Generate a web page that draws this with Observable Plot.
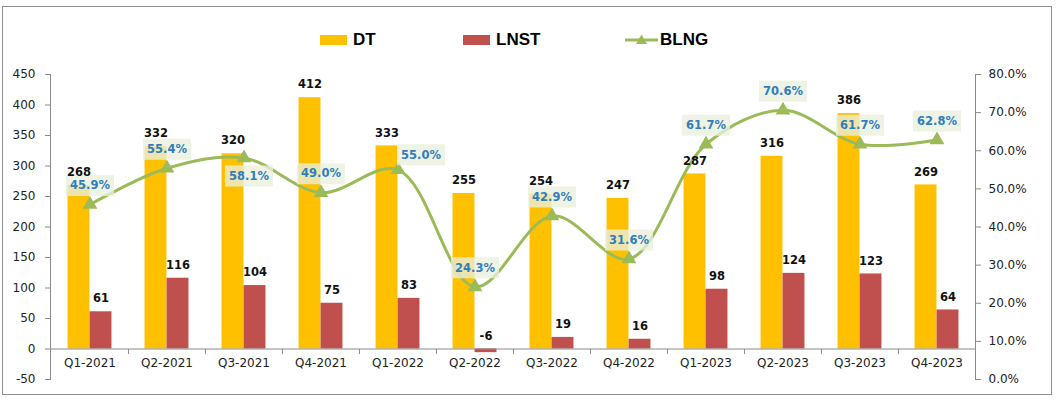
<!DOCTYPE html>
<html>
<head>
<meta charset="utf-8">
<script src="https://cdn.jsdelivr.net/npm/d3@7"></script>
<script src="https://cdn.jsdelivr.net/npm/@observablehq/plot@0.6"></script>
<style>
  html, body { margin: 0; padding: 0; background: #fff; }
  #wrap { position: relative; width: 1056px; height: 401px; overflow: hidden; }
  #frame { position: absolute; left: 2px; top: 6px; width: 1050px; height: 389px; box-sizing: border-box; border: 1px solid #8f8f8f; pointer-events: none; }
  #chart { position: absolute; left: 0; top: 0; }
  .legend { position: absolute; top: 0; left: 0; width: 1056px; height: 60px; font-family: "Liberation Sans", Arial, sans-serif; font-weight: bold; font-size: 17px; color: #000; }
  .legend .item { position: absolute; top: 29px; height: 22px; display: flex; align-items: center; }
  .legend .sw { display: inline-block; width: 27px; height: 10px; margin-right: 6px; }
  .legend svg { margin-right: 2px; }
</style>
</head>
<body>
<div id="wrap">
  <div id="chart"></div>
  <div class="legend" id="legend"></div>
  <div id="frame"></div>
</div>
<script>
// ---- data ----
const quarters = ["Q1-2021","Q2-2021","Q3-2021","Q4-2021","Q1-2022","Q2-2022","Q3-2022","Q4-2022","Q1-2023","Q2-2023","Q3-2023","Q4-2023"];
const dtValues   = [268, 332, 320, 412, 333, 255, 254, 247, 287, 316, 386, 269];
const lnstValues = [61, 116, 104, 75, 83, -6, 19, 16, 98, 124, 123, 64];
const blngValues = [45.9, 55.4, 58.1, 49.0, 55.0, 24.3, 42.9, 31.6, 61.7, 70.6, 61.7, 62.8];
const blngLabelPlacement = ["above","above","below","above","right","above","above","above","above","above","above","above"];
const leftTicks  = [-50, 0, 50, 100, 150, 200, 250, 300, 350, 400, 450];
const rightTicks = [0, 10, 20, 30, 40, 50, 60, 70, 80];
const seriesNames = ["DT", "LNST", "BLNG"];

// ---- styling / layout ----
const colors = {DT: "#FFC000", LNST: "#C0504D", BLNG: "#9BBB59"};
const W = 1056, H = 401, mL = 50, mR = 81, mT = 74, mB = 22;
const bandW = (W - mL - mR) / quarters.length;
const barW = 22;
const leftDomain = [leftTicks[0], leftTicks[leftTicks.length - 1]];
const rightDomain = [rightTicks[0], rightTicks[rightTicks.length - 1]];
const toLeft = p => leftDomain[0] + (p - rightDomain[0]) * (leftDomain[1] - leftDomain[0]) / (rightDomain[1] - rightDomain[0]);
const fromLeft = v => rightDomain[0] + (v - leftDomain[0]) * (rightDomain[1] - rightDomain[0]) / (leftDomain[1] - leftDomain[0]);
const placeOffsets = {above: [0, -19], below: [5, 18], right: [23, -15]};

const rows = quarters.map((q, i) => ({q, dt: dtValues[i], lnst: lnstValues[i], blng: blngValues[i], place: blngLabelPlacement[i]}));

const boxSymbol = {draw(ctx) { ctx.rect(-24, -10.5, 48, 21); }};
const tickSymbol = {draw(ctx) { ctx.moveTo(0, 0); ctx.lineTo(0, 5); }};

const pctMarks = Object.entries(placeOffsets).flatMap(([p, [dx, dy]]) => {
  const sub = rows.filter(d => d.place === p);
  return [
    Plot.dot(sub, {x: "q", y: d => toLeft(d.blng), symbol: boxSymbol, fill: "#E9EFDC", fillOpacity: 0.78, stroke: "none", dx, dy}),
    Plot.text(sub, {x: "q", y: d => toLeft(d.blng), text: d => d.blng.toFixed(1) + "%", dx, dy, fill: "#2F7DBF", fontWeight: "bold", fontSize: 11.5, textAnchor: "middle", lineAnchor: "middle"})
  ];
});

const chart = Plot.plot({
  width: W, height: H,
  marginLeft: mL, marginRight: mR, marginTop: mT, marginBottom: mB,
  style: {fontFamily: "'DejaVu Sans', Verdana, sans-serif", fontSize: "12px", color: "#222", background: "transparent", overflow: "visible"},
  x: {type: "band", domain: quarters, padding: 0, axis: null},
  y: {domain: leftDomain, axis: null},
  marks: [
    Plot.barY(rows, {x: "q", y: "dt", fill: colors.DT, insetLeft: bandW / 2 - barW, insetRight: bandW / 2}),
    Plot.barY(rows, {x: "q", y: "lnst", fill: colors.LNST, insetLeft: bandW / 2, insetRight: bandW / 2 - barW}),
    Plot.ruleY([0], {stroke: "#8a8a8a", strokeWidth: 1}),
    Plot.dot(quarters.slice(1), {x: d => d, y: 0, dx: -bandW / 2, symbol: tickSymbol, stroke: "#8a8a8a", fill: "none", strokeWidth: 1}),
    Plot.text(quarters, {x: d => d, y: 0, dy: 14, text: d => d, fill: "#222", fontSize: 12, lineAnchor: "middle"}),
    Plot.frame({anchor: "left", stroke: "#8a8a8a"}),
    Plot.frame({anchor: "right", stroke: "#8a8a8a"}),
    Plot.axisY(leftTicks, {anchor: "left", tickSize: 5, tickPadding: 10, stroke: "#8a8a8a", fill: "#222", fontSize: 12, tickFormat: d => String(d)}),
    Plot.axisY(rightTicks.map(toLeft), {anchor: "right", tickSize: 5, tickPadding: 8, stroke: "#8a8a8a", fill: "#222", fontSize: 12, tickFormat: v => fromLeft(v).toFixed(1) + "%"}),
    Plot.line(rows, {x: "q", y: d => toLeft(d.blng), stroke: colors.BLNG, strokeWidth: 3, curve: "catmull-rom"}),
    Plot.dot(rows, {x: "q", y: d => toLeft(d.blng), symbol: "triangle", r: 5.5, fill: colors.BLNG, stroke: "none"}),
    ...pctMarks,
    Plot.text(rows, {x: "q", y: "dt", text: d => String(d.dt), dx: -barW / 2, dy: -13, fill: "#111", fontWeight: "bold", fontSize: 11.5, lineAnchor: "middle"}),
    Plot.text(rows, {x: "q", y: d => Math.max(0, d.lnst), text: d => String(d.lnst), dx: barW / 2, dy: -13, fill: "#111", fontWeight: "bold", fontSize: 11.5, lineAnchor: "middle"})
  ]
});
document.getElementById("chart").appendChild(chart);

// ---- legend ----
const legend = document.getElementById("legend");
const legendLeft = {DT: 320, LNST: 463, BLNG: 625};
seriesNames.forEach(name => {
  const item = document.createElement("div");
  item.className = "item";
  item.style.left = legendLeft[name] + "px";
  if (name === "BLNG") {
    item.innerHTML = `<svg width="33" height="14"><line x1="0" y1="7" x2="33" y2="7" stroke="${colors.BLNG}" stroke-width="3"/><path d="M16.5,1.5 L22,11 L11,11 Z" fill="${colors.BLNG}"/></svg><span>${name}</span>`;
  } else {
    item.innerHTML = `<span class="sw" style="background:${colors[name]}"></span><span>${name}</span>`;
  }
  legend.appendChild(item);
});
</script>
</body>
</html>
